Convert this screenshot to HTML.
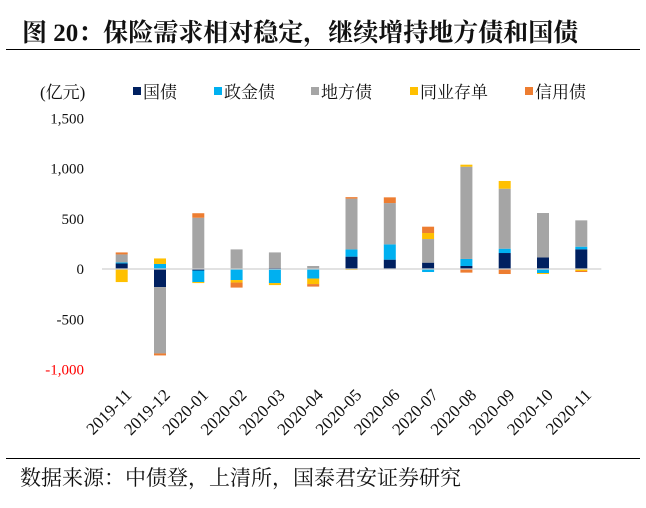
<!DOCTYPE html>
<html><head><meta charset="utf-8"><style>
body{margin:0;background:#fff;}
svg text{font-family:"Liberation Serif","Noto Serif CJK SC",serif;}
</style></head><body>
<svg width="646" height="503" viewBox="0 0 646 503" xmlns="http://www.w3.org/2000/svg">
<text x="22" y="41" font-size="25" font-weight="bold" fill="#111">图 20：保险需求相对稳定，继续增持地方债和国债</text>
<line x1="6" y1="49.5" x2="640" y2="49.5" stroke="#000" stroke-width="1"/>
<text x="40" y="98" font-size="17" fill="#111">(亿元)</text>
<g id="legend"></g>
<g id="yaxis"></g>
<g id="bars"></g>
<line id="zero" stroke="#d0d0d0" stroke-width="1.3"/>
<g id="xaxis"></g>
<line x1="6" y1="458.5" x2="640" y2="458.5" stroke="#000" stroke-width="1"/>
<text x="20" y="485" font-size="21" fill="#111">数据来源：中债登，上清所，国泰君安证券研究</text>
</svg>
<script>
const categories=["2019-11","2019-12","2020-01","2020-02","2020-03","2020-04","2020-05","2020-06","2020-07","2020-08","2020-09","2020-10","2020-11"];
const seriesNames=["国债","政金债","地方债","同业存单","信用债"];
const guozhai=[55,-180,-15,0,10,0,123,93,63,30,159,116,196];
const zhengjin=[10,50,-115,-110,-140,-95,72,152,-30,70,43,-40,26];
const difang=[80,-660,510,195,155,30,505,411,235,918,597,441,262];
const tongye=[-130,55,-10,-25,-20,-55,-10,0,60,20,77,-10,-20];
const xinyong=[20,-20,45,-50,0,-25,15,57,63,-36,-50,0,-10];
const yTicks=[1500,1000,500,0,-500,-1000];
const yTickLabels=["1,500","1,000","500","0","-500","-1,000"];
const colors=["#002060","#00b0f0","#a5a5a5","#ffc000","#ed7d31"];
const NS="http://www.w3.org/2000/svg";
const y0=269, pxPer=0.1005;
function yScale(v){return y0-v*pxPer;}
const x0=121.7, step=38.3, bw=12;
function xScale(i){return x0+i*step;}
function mk(tag,attrs,parent){const e=document.createElementNS(NS,tag);for(const k in attrs)e.setAttribute(k,attrs[k]);parent.appendChild(e);return e;}
const yax=document.getElementById('yaxis');
yTicks.forEach((t,i)=>{const e=mk('text',{x:84,y:yScale(t)+5,'font-size':15,'text-anchor':'end',fill:t<=-1000?'#ff0000':'#111'},yax);


e.textContent=yTickLabels[i];});
const z=document.getElementById('zero');
z.setAttribute('x1',102);z.setAttribute('x2',xScale(categories.length-1)+20);z.setAttribute('y1',y0);z.setAttribute('y2',y0);
const series=[guozhai,zhengjin,difang,tongye,xinyong];
const bars=document.getElementById('bars');
categories.forEach((c,i)=>{let pos=0,neg=0;
series.forEach((s,k)=>{const v=s[i];if(!v)return;let a,b;
if(v>0){a=pos;b=pos+v;pos=b;}else{a=neg;b=neg+v;neg=b;}
const yt=yScale(Math.max(a,b)),yb=yScale(Math.min(a,b));
const r=mk('rect',{x:xScale(i)-bw/2,y:yt,width:bw,height:Math.max(yb-yt,0.5),fill:colors[k]},bars);

});});
const xax=document.getElementById('xaxis');
categories.forEach((c,i)=>{const x=xScale(i)+11,y=396;
const e=mk('text',{x:x,y:y,'font-size':17,'text-anchor':'end',fill:'#111',transform:`rotate(-45 ${x} ${y})`},xax);


e.textContent=c;});
const lg=document.getElementById('legend');
const lx=[133,214,311,410,525];
seriesNames.forEach((n,k)=>{
const r=mk('rect',{x:lx[k],y:87,width:8,height:8,fill:colors[k]},lg);


const t=mk('text',{x:lx[k]+10,y:98,'font-size':17,fill:'#111'},lg);


t.textContent=n;});
</script>
</body></html>
